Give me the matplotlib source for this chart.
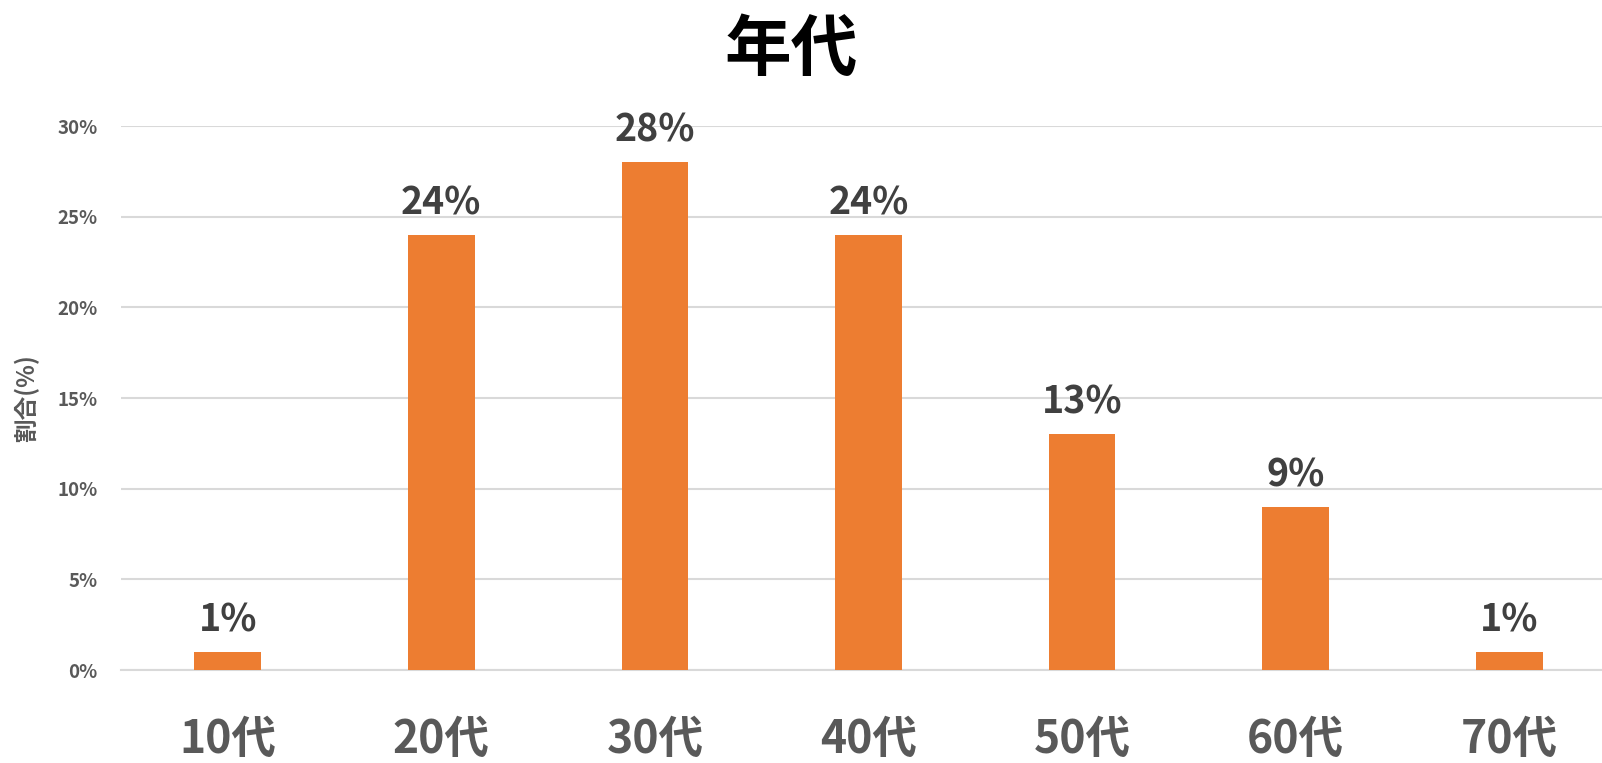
import matplotlib
matplotlib.use("Agg")
import matplotlib.pyplot as plt
from matplotlib.ticker import FuncFormatter

plt.rcParams['font.family'] = ['Noto Sans CJK JP', 'DejaVu Sans']

# data
categories = ['10代', '20代', '30代', '40代', '50代', '60代', '70代']
shares = [1, 24, 28, 24, 13, 9, 1]
yticks = [0, 5, 10, 15, 20, 25, 30]

fig = plt.figure(figsize=(16.02, 7.63), dpi=100)
# plot area runs past the right edge of the picture, as in the original
ax = fig.add_axes([121 / 1602, 93 / 763, 1495 / 1602, 544 / 763])

x = range(len(categories))
bars = ax.bar(x, shares, width=0.313, color='#ED7D31', zorder=3)

for b, v in zip(bars, shares):
    ax.annotate(f'{v}%', (b.get_x() + b.get_width() / 2, v),
                xytext=(0, 9), textcoords='offset points',
                ha='center', va='bottom', fontsize=27, fontweight='bold',
                color='#404040')

ax.set_xlim(-0.5, len(categories) - 0.5)
ax.set_ylim(0, 30)
ax.set_yticks(yticks)
ax.yaxis.set_major_formatter(FuncFormatter(lambda v, p: f'{v:.0f}%'))
ax.set_xticks(list(x))
ax.set_xticklabels(categories)

ax.grid(axis='y', color='#D9D9D9', linewidth=1.5, zorder=0)
for s in ['top', 'right', 'left']:
    ax.spines[s].set_visible(False)
ax.spines['bottom'].set_color('#D9D9D9')
ax.spines['bottom'].set_linewidth(1.5)
ax.tick_params(axis='both', length=0)
ax.tick_params(axis='y', pad=17, labelsize=13.5, labelcolor='#595959')
ax.tick_params(axis='x', pad=34, labelsize=32, labelcolor='#595959')
for t in ax.get_yticklabels() + ax.get_xticklabels():
    t.set_fontweight('bold')

ax.set_ylabel('割合(%)', fontsize=17, fontweight='bold', color='#595959', labelpad=13)
fig.text(0.494, 0.978, '年代', ha='center', va='top', fontsize=48,
         fontweight='bold', color='#000000')

fig.savefig('out.png', dpi=100)
